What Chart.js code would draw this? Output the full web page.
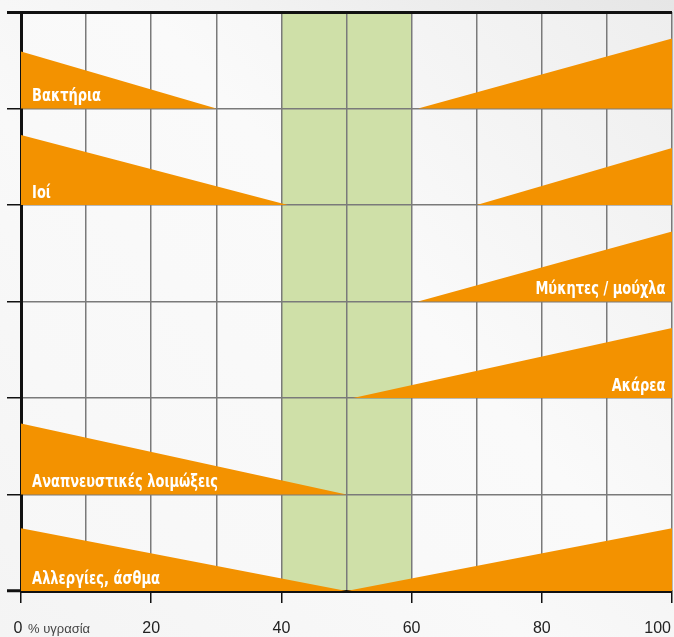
<!DOCTYPE html>
<html>
<head>
<meta charset="utf-8">
<script src="https://cdn.jsdelivr.net/npm/chart.js@4"></script>
<style>
    html, body { margin: 0; padding: 0; }
    body {
        width: 674px; height: 637px; overflow: hidden;
        background: linear-gradient(225deg, #e6e6e6 0%, #f3f3f3 35%, #f9f9f9 60%, #f4f4f4 100%);
    }
    #wrap { position: relative; width: 674px; height: 637px; }
</style>
</head>
<body>
<div id="wrap"><canvas id="chart" width="674" height="637"></canvas></div>
<script>
// rows from top to bottom
const rowNames = ["Βακτήρια", "Ιοί", "Μύκητες / μούχλα", "Ακάρεα", "Αναπνευστικές λοιμώξεις", "Αλλεργίες, άσθμα"];
const labelSide = ["left", "left", "right", "right", "left", "left"];
// left wedge: height at 0 % and humidity where it ends
const leftHeight = [0.59, 0.725, null, null, 0.735, 0.65];
const leftEnd = [30, 41, null, null, 50, 50];
// right wedge: humidity where it starts and height at 100 %
const rightStart = [61, 70, 61, 51, null, 50];
const rightHeight = [0.725, 0.59, 0.725, 0.725, null, 0.65];
// optimal humidity zone
const bandFrom = 40, bandTo = 60;
const xTickLabels = [0, 20, 40, 60, 80, 100];

const ORANGE = "#f39200";
const GREEN = "#cfe0a8";
const nRows = rowNames.length;

// build the wedges as filled line datasets
const datasets = [];
rowNames.forEach((name, i) => {
    const base = nRows - 1 - i;
    if (leftHeight[i] != null) {
        datasets.push({
            label: name + " L",
            data: [{ x: 0, y: base + leftHeight[i] }, { x: leftEnd[i], y: base }],
            fill: { value: base },
            backgroundColor: ORANGE,
            borderWidth: 0,
            pointRadius: 0,
        });
    }
    if (rightHeight[i] != null) {
        datasets.push({
            label: name + " R",
            data: [{ x: rightStart[i], y: base }, { x: 100, y: base + rightHeight[i] }],
            fill: { value: base },
            backgroundColor: ORANGE,
            borderWidth: 0,
            pointRadius: 0,
        });
    }
});

//green band + plot background, under the grid
const bandPlugin = {
    id: "band",
    beforeDraw(chart) {
        const { ctx, chartArea: a, scales: { x } } = chart;
        ctx.save();
        const g = ctx.createLinearGradient(a.left, a.bottom, a.right, a.top);
        g.addColorStop(0, "#f7f7f7");
        g.addColorStop(0.55, "#fafafa");
        g.addColorStop(1, "#eeeeee");
        ctx.fillStyle = g;
        ctx.fillRect(a.left, a.top, a.right - a.left, a.bottom - a.top);
        ctx.fillStyle = GREEN;
        const x1 = x.getPixelForValue(bandFrom), x2 = x.getPixelForValue(bandTo);
        ctx.fillRect(x1, a.top, x2 - x1, a.bottom - a.top);
        ctx.restore();
    },
};

// row names and x labels
const SQUEEZE = 0.85;
const textPlugin = {
    id: "texts",
    afterDraw(chart) {
        const { ctx, scales: { x, y } } = chart;
        ctx.save();
        ctx.fillStyle = "#ffffff";
        ctx.font = "bold 17px 'DejaVu Sans Condensed', 'DejaVu Sans', sans-serif";
        ctx.textBaseline = "alphabetic";
        rowNames.forEach((name, i) => {
            const base = nRows - 1 - i;
            const py = y.getPixelForValue(base + 0.075);
            const px = labelSide[i] === "left" ? x.getPixelForValue(1.7) : x.getPixelForValue(99);
            ctx.save();
            ctx.translate(px, py);
            ctx.scale(SQUEEZE, 1);
            ctx.textAlign = labelSide[i];
            ctx.fillText(name, 0, 0);
            ctx.restore();
        });

        ctx.fillStyle = "#222";
        ctx.font = "16px 'Liberation Sans', Arial, sans-serif";
        const ty = 633;
        xTickLabels.forEach((v) => {
            const px = x.getPixelForValue(v);
            if (v === 0) {
                ctx.textAlign = "center";
                ctx.fillText("0", px - 3, ty);
                ctx.font = "13px 'Liberation Sans', Arial, sans-serif";
                ctx.fillStyle = "#444";
                ctx.textAlign = "left";
                ctx.fillText("% υγρασία", px + 7, ty);
                ctx.fillStyle = "#222";
                ctx.font = "16px 'Liberation Sans', Arial, sans-serif";
            } else if (v === 100) {
                ctx.textAlign = "right";
                ctx.fillText("100", px - 1, ty);
            } else {
                ctx.textAlign = "center";
                ctx.fillText(String(v), px, ty);
            }
        });
        ctx.restore();
    },
};

new Chart(document.getElementById("chart"), {
    type: "line",
    data: { datasets },
    options: {
        responsive: false,
        animation: false,
        layout: { padding: { left: 7, right: 2, top: 12, bottom: 34 } },
        plugins: { legend: { display: false }, tooltip: { enabled: false } },
        elements: { line: { tension: 0 } },
        scales: {
            x: {
                type: "linear",
                min: 0, max: 100,
                ticks: { stepSize: 10, display: false },
                grid: {
                    color: "#7a7a7a",
                    lineWidth: 1.5,
                    tickLength: 12,
                    tickColor: (c) => (c.tick && c.tick.value % 20 === 0 ? "#111" : "rgba(0,0,0,0)"),
                    tickWidth: 1.5,
                },
                border: { color: "#111", width: 3 },
            },
            y: {
                type: "linear",
                min: 0, max: nRows,
                ticks: { stepSize: 1, display: false },
                grid: {
                    color: (c) => (c.tick && c.tick.value === nRows ? "#111" : "#7a7a7a"),
                    lineWidth: (c) => (c.tick && c.tick.value === nRows ? 3 : 1.5),
                    tickLength: 14,
                    tickColor: "#111",
                    tickWidth: (c) => (c.tick && (c.tick.value === nRows || c.tick.value === 0) ? 3 : 1.5),
                },
                border: { color: "#111", width: 3 },
            },
        },
    },
    plugins: [bandPlugin, textPlugin],
});
</script>
</body>
</html>
